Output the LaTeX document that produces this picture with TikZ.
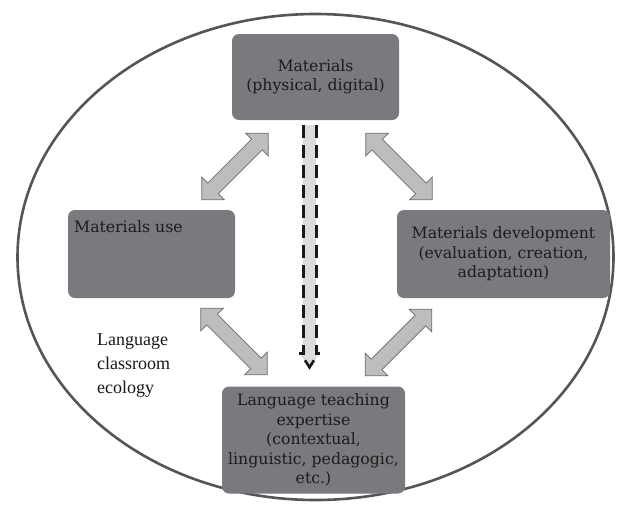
\documentclass[tikz,border=0pt]{standalone}
\usepackage{fontspec}
\setmainfont{Liberation Serif}
\newfontfamily\boxfont{DejaVu Serif}
\usetikzlibrary{calc}
\definecolor{boxgray}{HTML}{7A7A7E}
\definecolor{txtdark}{HTML}{1C1C1C}
\definecolor{arrfill}{HTML}{BDBDBF}
\definecolor{arrline}{HTML}{6A6A6C}
\definecolor{ellline}{HTML}{555555}
\definecolor{dashfill}{HTML}{DCDCDC}
\tikzset{
  box/.style={fill=boxgray, rounded corners=7pt, inner sep=0pt, text=txtdark,
    font=\boxfont\fontsize{15.7}{19.5}\selectfont, align=center},
  boxtxt/.style={text=txtdark, font=\boxfont\fontsize{15.7}{19.5}\selectfont, inner sep=0pt},
  ecotxt/.style={text=black!90, font=\fontsize{18}{24}\selectfont, align=left, inner sep=0pt},
  arrowstyle/.style={fill=arrfill, draw=arrline, line width=0.8pt, line join=miter},
  dblarr/.pic={\path[arrowstyle] (-47,0) -- (-31,16) -- (-31,7.5) -- (31,7.5) -- (31,16) -- (47,0)
     -- (31,-16) -- (31,-7.5) -- (-31,-7.5) -- (-31,-16) -- cycle;},
  dashline/.style={draw=black!90, line width=3pt, dash pattern=on 13pt off 7pt},
  tipline/.style={draw=black!90, line width=2.6pt}
}
\begin{document}
\begin{tikzpicture}[x=1pt,y=-1pt]
\useasboundingbox (0,0) rectangle (622,507);
\fill[white] (0,0) rectangle (622,507);
% ellipse
\coordinate (eco) at (315.5,257);
\draw[ellline, line width=2.6pt] (eco) ellipse [x radius=298, y radius=243];
% boxes
\node[box, minimum width=167pt, minimum height=86pt] (mat) at (315.5,77) {Materials\\(physical, digital)};
\node[box, minimum width=167pt, minimum height=88pt] (use) at (151.5,254) {};
\node[boxtxt, anchor=base west] (usetxt) at (74,232) {Materials use};
\node[box, minimum width=213pt, minimum height=88pt] (dev) at (503.5,254) {Materials development\\(evaluation, creation,\\adaptation)};
\node[box, minimum width=183pt, minimum height=107pt] (exp) at (313.5,440)
  {Language teaching\\expertise\\(contextual,\\linguistic, pedagogic,\\etc.)};
% label
\node[ecotxt, anchor=north west] (lce) at (97,334) {Language\\classroom\\ecology};
% double arrows
\pic[rotate=45] at (235,166.5) {dblarr};
\pic[rotate=-45] at (399,166.5) {dblarr};
\pic[rotate=-45] at (234,341.5) {dblarr};
\pic[rotate=45] at (398.5,342.5) {dblarr};
% dashed arrow
\coordinate (dtip) at ($(exp.north)+(-4,-19)$);
\fill[dashfill] (303,125) -- (303,353) -- (299,353) -- (dtip) -- (320,353) -- (316,353) -- (316,125) -- cycle;
\draw[dashline] (303,125) -- (303,353) -- (299,353);
\draw[dashline] (316,125) -- (316,353) -- (320,353);
\draw[tipline] ($(dtip)+(-4.5,-7)$) -- (dtip) -- ($(dtip)+(4.5,-7)$);
\end{tikzpicture}
\end{document}
